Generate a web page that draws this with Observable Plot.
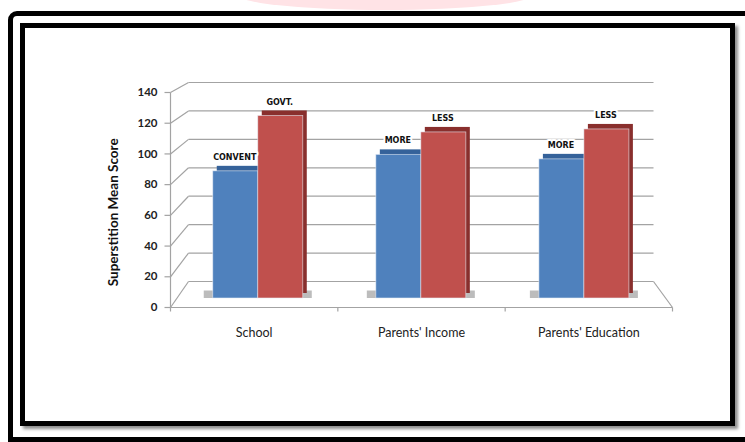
<!DOCTYPE html>
<html>
<head>
<meta charset="utf-8">
<script src="https://cdn.jsdelivr.net/npm/d3@7"></script>
<script src="https://cdn.jsdelivr.net/npm/@observablehq/plot@0.6"></script>
<style>
  html, body { margin: 0; padding: 0; background: #fff; width: 745px; height: 442px; overflow: hidden; }
  #mark { position: absolute; left: 235px; top: -22px; width: 300px; height: 32px; border-radius: 50%; background: #ffe3e6; }
  #outer { position: absolute; left: 8px; top: 11px; width: 760px; height: 421px; border: 5px solid #000; border-top-left-radius: 9px; background: #fff; }
  #inner { position: absolute; left: 20px; top: 23px; width: 705px; height: 393px; border: 5px solid #000; box-shadow: 3px 3px 3px rgba(0,0,0,0.45); }
  #chart { position: absolute; left: 0; top: 0; }
</style>
</head>
<body>
<div id="mark"></div>
<div id="outer"></div>
<div id="inner"></div>
<div id="chart"></div>
<script>
// ---- data ----
const categories = ["School", "Parents' Income", "Parents' Education"];
const blueLabels = ["CONVENT", "MORE", "MORE"];
const redLabels = ["GOVT.", "LESS", "LESS"];
const blueValues = [85, 96, 93];
const redValues = [122, 111, 113];
const yTicks = [0, 20, 40, 60, 80, 100, 120, 140];
const yTitle = "Superstition Mean Score";

// ---- 3D wall geometry (pixel layout of front / back planes) ----
const W = 745, H = 442;
const L = t => 170 + 18 * t;          // left edge at depth t
const R = t => 672 - 19 * t;          // right edge at depth t
const B = t => 307 - 26 * t;          // baseline at depth t
const S = t => (215 - 16 * t) / 140;  // px per unit at depth t
const t0 = 9 / 26;                    // depth of the bars
const L0 = L(t0), R0 = R(t0), B0 = B(t0), S0 = S(t0);
const unit = (R0 - L0) / 3;
// project (category position c, value v, depth t) into the bar-plane scales
function proj(c, v, t) {
  const px = L(t) + c * (R(t) - L(t)) / 3;
  const py = B(t) - S(t) * v;
  return {x: (px - L0) / unit, y: (B0 - py) / S0};
}

const segs = [];
yTicks.forEach(v => {
  segs.push({a: proj(0, v, 1), b: proj(3, v, 1)});   // back wall gridline
  segs.push({a: proj(0, v, 0), b: proj(0, v, 1)});   // side wall diagonal
});
segs.push({a: proj(0, 0, 0), b: proj(3, 0, 0)});     // floor front edge
segs.push({a: proj(3, 0, 0), b: proj(3, 0, 1)});     // floor right edge
segs.push({a: proj(0, 0, 0), b: proj(0, 140, 0)});   // front value axis

const frontTicks = yTicks.map(v => proj(0, v, 0));
const catTicks = [0, 1, 2, 3].map(c => proj(c, 0, 0));
// title sits left of the front axis, centred on the value range
const titlePos = proj(0, 62, 0);

const bw = 45 / unit;
const bars = [];
categories.forEach((c, i) => {
  bars.push({i, x1: i + 0.5 - bw, x2: i + 0.5, v: blueValues[i], label: blueLabels[i], s: "blue"});
  bars.push({i, x1: i + 0.5, x2: i + 0.5 + bw, v: redValues[i], label: redLabels[i], s: "red"});
});
const front = {blue: "#4f81bd", red: "#c0504d"};
const dark = {blue: "#35629a", red: "#892f2d"};

const chart = Plot.plot({
  width: W,
  height: H,
  marginLeft: L0,
  marginRight: W - R0,
  marginBottom: H - B0,
  marginTop: B0 - 140 * S0,
  x: {domain: [0, 3], axis: null},
  y: {domain: [0, 140], axis: null},
  style: {background: "transparent", fontFamily: "Lato, 'Open Sans', sans-serif", overflow: "visible", color: "#000"},
  marks: [
    Plot.link(segs, {x1: d => d.a.x, y1: d => d.a.y, x2: d => d.b.x, y2: d => d.b.y, stroke: "#a3a3a3", strokeWidth: 1.2}),
    // front axis tick marks
    Plot.link(frontTicks, {x1: d => d.x, y1: d => d.y, x2: d => d.x - 6 / unit, y2: d => d.y, stroke: "#a3a3a3", strokeWidth: 1.2}),
    Plot.link(catTicks, {x1: d => d.x, y1: d => d.y, x2: d => d.x, y2: d => d.y - 4 / S0, stroke: "#a3a3a3", strokeWidth: 1.2}),
    // floor shadows
    Plot.rect(categories, {x1: (d, i) => i + 0.5 - bw - 9 / unit, x2: (d, i) => i + 0.5 + bw + 9 / unit, y1: 0, y2: 5, fill: "#7a7a7a", fillOpacity: 0.5}),
    // bar extrusion (top + side faces)
    Plot.rect(bars, {x1: "x1", x2: "x2", y1: 0, y2: "v", fill: d => dark[d.s], dx: 4, dy: -5}),
    // bar front faces
    Plot.rect(bars, {x1: "x1", x2: "x2", y1: 0, y2: "v", fill: d => front[d.s], stroke: "#e8eef7", strokeWidth: 0.8, strokeOpacity: 0.7}),
    // bar labels
    Plot.text(bars, {x: d => (d.x1 + d.x2) / 2, y: "v", text: "label", dy: -14, dx: -1, fontFamily: "'DejaVu Sans', sans-serif", fontWeight: "bold", fontSize: 8, fill: "#111", stroke: "white", strokeWidth: 4}),
    // value tick labels
    Plot.text(yTicks, {x: () => frontTicks[0].x, y: (d, i) => frontTicks[i].y, text: d => String(d), textAnchor: "end", dx: -13, fontWeight: "bold", fontSize: 11.5, fill: "#222"}),
    // category labels
    Plot.text(categories, {x: (d, i) => proj(i + 0.5, 0, 0).x, y: (d, i) => proj(i + 0.5, 0, 0).y, text: d => d, dy: 25, fontSize: 12.5, fill: "#222"}),
    // value axis title
    Plot.text([yTitle], {x: titlePos.x - 57 / unit, y: titlePos.y, text: d => d, rotate: -90, fontWeight: "bold", fontSize: 13.5, fill: "#111"})
  ]
});
document.getElementById("chart").appendChild(chart);
</script>
</body>
</html>
